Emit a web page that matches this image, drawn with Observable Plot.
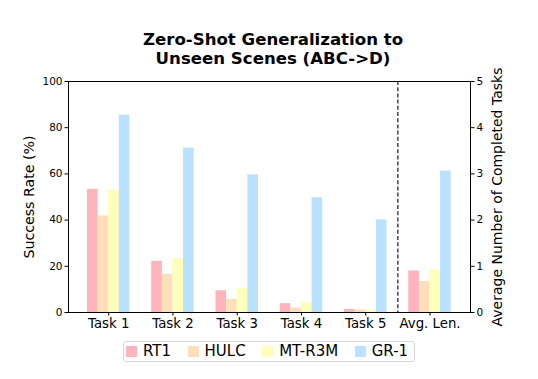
<!DOCTYPE html>
<html>
<head>
<meta charset="utf-8">
<script src="https://cdn.jsdelivr.net/npm/d3@7"></script>
<script src="https://cdn.jsdelivr.net/npm/@observablehq/plot@0.6"></script>
<style>
  body { margin: 0; background: #fff; font-family: "DejaVu Sans", sans-serif; }
  #wrap { position: relative; width: 538px; height: 379px; overflow: hidden; background: #fff; }
  #title { position: absolute; left: 4px; top: 30px; width: 538px; text-align: center;
           font-family: "DejaVu Sans", sans-serif; font-weight: bold; font-size: 16.6px;
           line-height: 19.4px; color: #000; }
  #chart { position: absolute; left: 0; top: 0; }
  #legendBox { position: absolute; left: 123px; top: 341px; width: 288px; height: 18.5px;
               border: 1px solid #d8d8d8; border-radius: 3px; background: #fff;
               padding-left: 2px; box-sizing: content-box; overflow: visible; }
  .lg-swatches { margin: 0 !important; font-family: "DejaVu Sans", sans-serif !important; font-size: 15px !important;
                 color: #000; width: max-content !important; }
  .lg-swatches-wrap { min-height: 0 !important; height: 18.5px; flex-wrap: nowrap !important; display: flex !important; align-items: center; }
  .lg-swatch { margin-right: 16.5px !important; white-space: nowrap !important; flex-shrink: 0 !important; display: inline-flex !important; align-items: center; }
  .lg-swatch > svg { margin-right: 6px !important; flex-shrink: 0; }
</style>
</head>
<body>
<div id="wrap">
  <div id="chart"></div>
  <div id="title">Zero-Shot Generalization to<br>Unseen Scenes (ABC-&gt;D)</div>
  <div id="legendBox"></div>
</div>
<script>
// ---- data ----
const categories = ["Task 1", "Task 2", "Task 3", "Task 4", "Task 5", "Avg. Len."];
const seriesNames = ["RT1", "HULC", "MT-R3M", "GR-1"];
const colors = ["#ffb3ba", "#ffdfba", "#ffffba", "#bae1ff"];
// success rate (%) for Task 1..5
const rt1   = [53.3, 22.2, 9.4, 3.8, 1.3];
const hulc  = [41.8, 16.5, 5.7, 1.9, 1.1];
const mtr3m = [52.9, 23.4, 10.4, 4.3, 1.1];
const gr1   = [85.4, 71.2, 59.6, 49.7, 40.1];
// average number of completed tasks (right axis, 0-5)
const avgLen = [0.90, 0.67, 0.92, 3.06];
const yTicks = [0, 20, 40, 60, 80, 100];
const y2Ticks = [0, 1, 2, 3, 4, 5];
const leftLabel = "Success Rate (%)";
const rightLabel = "Average Number of Completed Tasks";

// ---- table ----
const seriesValues = [rt1, hulc, mtr3m, gr1];
const y2Max = y2Ticks[y2Ticks.length - 1];
const yMax = yTicks[yTicks.length - 1];
const rows = [];
seriesValues.forEach((vals, j) => {
  vals.forEach((v, i) => rows.push({series: seriesNames[j], cat: i, j, value: v}));
  rows.push({series: seriesNames[j], cat: categories.length - 1, j, value: avgLen[j] * yMax / y2Max});
});
const barW = 0.165;
const nS = seriesNames.length;

const plot = Plot.plot({
  width: 538,
  height: 340,
  marginTop: 81,
  marginBottom: 28,
  marginLeft: 68,
  marginRight: 68,
  style: {fontFamily: "DejaVu Sans, sans-serif", color: "#000", background: "transparent"},
  x: {type: "linear", domain: [-0.625, 5.63], axis: null},
  y: {domain: [0, yMax], axis: null},
  color: {domain: seriesNames, range: colors},
  marks: [
    Plot.rectY(rows, {
      x1: d => d.cat + (d.j - nS / 2) * barW,
      x2: d => d.cat + (d.j - nS / 2 + 1) * barW,
      y1: 0, y2: "value", fill: "series", inset: 0
    }),
    Plot.ruleX([categories.length - 1.5], {stroke: "#000", strokeWidth: 1.1, strokeDasharray: "4,2.2"}),
    Plot.frame({stroke: "#000", strokeWidth: 1}),
    Plot.axisX(d3.range(categories.length), {
      tickFormat: i => categories[i], fontSize: 13.3, tickSize: 3.5, tickPadding: 3, label: null, stroke: "#000"
    }),
    Plot.axisY(yTicks, {anchor: "left", fontSize: 10.5, tickSize: 3.5, tickPadding: 2.5, label: null, tickFormat: d => String(d)}),
    Plot.axisY(yTicks, {anchor: "right", fontSize: 10.5, tickSize: 3.5, tickPadding: 2.5, label: null,
      tickFormat: d => String(d * y2Max / yMax)}),
    Plot.axisY([], {anchor: "left", fontSize: 14.2, label: leftLabel, labelAnchor: "center", labelArrow: "none", labelOffset: 45}),
    Plot.axisY([], {anchor: "right", fontSize: 14, label: rightLabel, labelAnchor: "center", labelArrow: "none", labelOffset: 31})
  ]
});
document.getElementById("chart").appendChild(plot);

const legend = Plot.legend({
  color: {domain: seriesNames, range: colors},
  swatchSize: 11,
  className: "lg"
});
document.getElementById("legendBox").appendChild(legend);
</script>
</body>
</html>
